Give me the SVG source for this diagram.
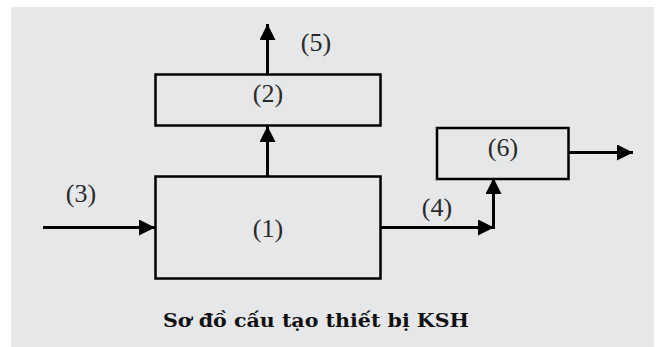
<svg xmlns="http://www.w3.org/2000/svg" width="656" height="347" viewBox="0 0 656 347">
<defs>
<marker id="ah" markerUnits="userSpaceOnUse" markerWidth="16" markerHeight="16" viewBox="0 0 16 16" refX="16" refY="8" orient="auto">
<path d="M0,0 L16,8 L0,16 Z" fill="#000"/>
</marker>
<style>
.box{fill:none;stroke:#000;stroke-width:2.5}
.ln{fill:none;stroke:#000;stroke-width:3}
.lbl{font-family:"Liberation Serif","DejaVu Serif",serif;font-size:26px;fill:#2a2a2a;text-anchor:middle}
.title{font-family:"DejaVu Serif","Liberation Serif",serif;font-size:19px;font-weight:bold;fill:#111;text-anchor:middle}
</style>
</defs>
<rect x="0" y="0" width="656" height="347" fill="#fff"/>
<rect x="11" y="7" width="643" height="340" fill="#e6e7e9"/>
<g id="connectors">
<line class="ln" x1="43" y1="227.5" x2="155" y2="227.5" marker-end="url(#ah)"/>
<line class="ln" x1="267.5" y1="176" x2="267.5" y2="126" marker-end="url(#ah)"/>
<line class="ln" x1="267.5" y1="74" x2="267.5" y2="24" marker-end="url(#ah)"/>
<line class="ln" x1="381" y1="227.5" x2="494" y2="227.5" marker-end="url(#ah)"/>
<line class="ln" x1="493.5" y1="229" x2="493.5" y2="178" marker-end="url(#ah)"/>
<line class="ln" x1="569" y1="152.5" x2="633" y2="152.5" marker-end="url(#ah)"/>
<text class="lbl" x="81" y="202">(3)</text>
<text class="lbl" x="316" y="51">(5)</text>
<text class="lbl" x="437" y="216">(4)</text>
</g>
<g id="node1">
<rect class="box" x="155.5" y="176.5" width="225" height="102"/>
<text class="lbl" x="268" y="237">(1)</text>
</g>
<g id="node2">
<rect class="box" x="155.5" y="74.5" width="225" height="51"/>
<text class="lbl" x="268" y="102">(2)</text>
</g>
<g id="node6">
<rect class="box" x="437" y="128" width="131.5" height="51"/>
<text class="lbl" x="503" y="156">(6)</text>
</g>
<text class="title" x="316" y="327" textLength="306" lengthAdjust="spacingAndGlyphs">Sơ đồ cấu tạo thiết bị KSH</text>
</svg>
